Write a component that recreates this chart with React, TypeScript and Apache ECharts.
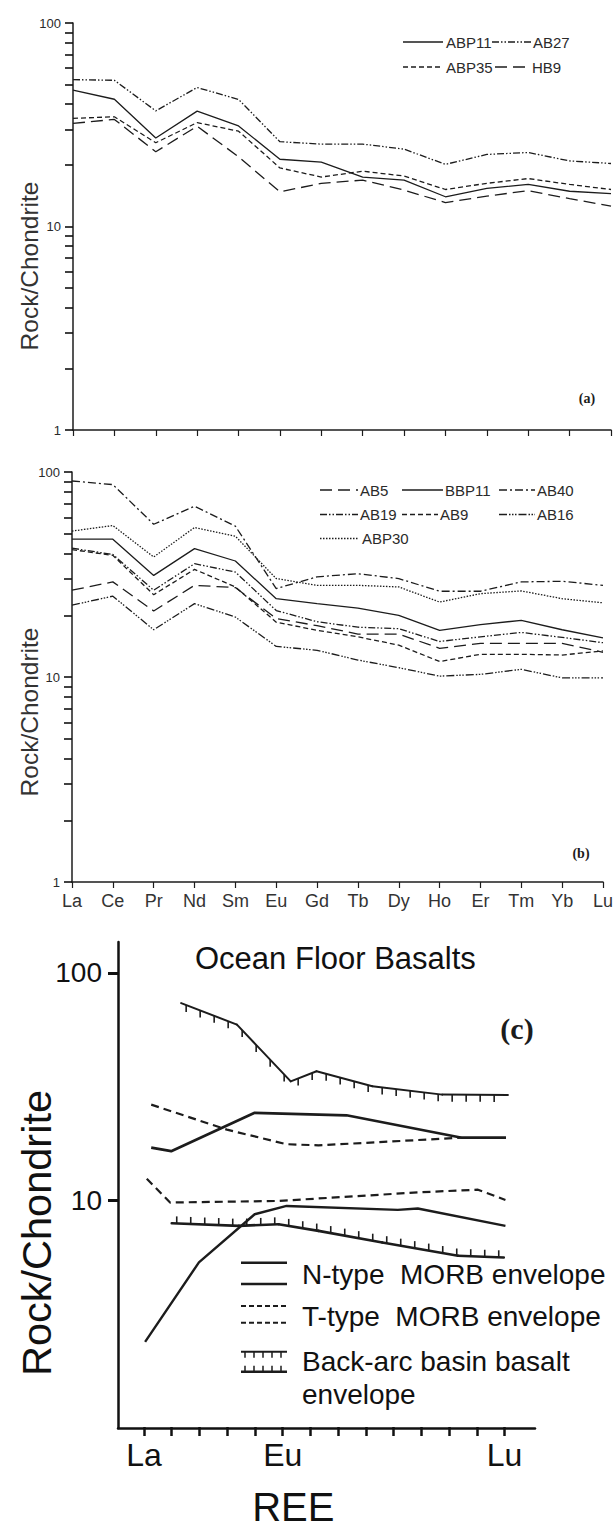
import React, { useEffect, useRef } from 'react';
import * as echarts from 'echarts';

// ---------- data ----------
const REE = ['La', 'Ce', 'Pr', 'Nd', 'Sm', 'Eu', 'Gd', 'Tb', 'Dy', 'Ho', 'Er', 'Tm', 'Yb', 'Lu'];
const REE_C_LABELS: Record<number, string> = { 0: 'La', 5: 'Eu', 13: 'Lu' };
const TICKS_AB = [1, 2, 3, 4, 5, 6, 7, 8, 9, 10, 20, 30, 40, 50, 60, 70, 80, 90, 100];
const LABELS_AB = [1, 10, 100];
const TICKS_C = [10, 100];
const Y_TITLE = 'Rock/Chondrite';

// panel (a)
const ABP11 = [46.8, 42.2, 27.2, 36.9, 31.2, 21.4, 20.7, 17.5, 16.9, 14.0, 15.4, 16.1, 14.9, 14.5];
const AB27 = [52.7, 52.3, 37.0, 48.2, 42.1, 26.1, 25.4, 25.4, 24.0, 20.2, 22.6, 23.1, 21.0, 20.4];
const ABP35 = [34.0, 34.6, 25.8, 32.4, 29.4, 19.4, 17.5, 18.7, 17.7, 15.2, 16.3, 17.2, 16.1, 15.2];
const HB9 = [32.1, 33.6, 23.3, 31.1, 22.0, 14.8, 16.3, 16.9, 15.1, 13.1, 14.1, 15.0, 13.7, 12.6];

// panel (b)
const AB5 = [26.5, 29.1, 21.0, 28.0, 27.3, 19.3, 17.8, 16.2, 16.2, 13.8, 14.6, 14.6, 14.6, 13.2];
const BBP11 = [47.0, 47.0, 31.3, 42.3, 36.8, 24.1, 22.8, 21.7, 20.0, 16.9, 18.0, 18.9, 17.0, 15.5];
const AB40 = [90.4, 86.8, 55.6, 68.1, 54.4, 27.0, 30.8, 31.9, 30.2, 26.2, 26.2, 29.1, 29.3, 28.0];
const AB19 = [42.5, 39.6, 26.5, 35.7, 32.5, 21.1, 18.6, 17.5, 17.2, 14.9, 15.7, 16.5, 15.6, 14.7];
const AB9 = [41.8, 39.2, 25.2, 33.5, 27.5, 18.5, 16.9, 15.7, 14.3, 11.9, 12.9, 12.9, 12.8, 13.4];
const AB16 = [22.4, 24.8, 17.0, 22.8, 19.6, 14.1, 13.5, 12.1, 11.1, 10.1, 10.3, 10.9, 9.9, 9.9];
const ABP30 = [51.5, 54.8, 38.5, 53.6, 48.6, 30.2, 28.0, 28.0, 27.5, 23.2, 25.5, 26.3, 24.1, 23.0];

// panel (c) envelopes: [REE index position, Rock/Chondrite]
const N_MORB_UPPER = [[0.26, 17.0], [0.98, 16.4], [3.99, 24.2], [7.3, 23.6], [11.46, 18.8], [13.05, 18.8]];
const N_MORB_LOWER = [[0.04, 2.37], [1.98, 5.31], [3.99, 8.65], [5.14, 9.41], [9.15, 9.04], [9.87, 9.17], [13.03, 7.69]];
const T_MORB_UPPER = [[0.26, 26.3], [2.99, 20.4], [5.14, 17.6], [6.29, 17.4], [11.46, 18.8]];
const T_MORB_LOWER = [[0.1, 12.4], [0.94, 9.74], [4.85, 9.9], [9.88, 10.8], [12.04, 11.1], [13.03, 10.0]];
const BAB_UPPER = [[1.34, 73.6], [3.35, 59.2], [5.29, 33.3], [6.22, 36.9], [8.23, 31.7], [10.75, 29.1], [13.12, 29.0]];
const BAB_LOWER = [[1.0, 7.9], [3.42, 7.69], [4.85, 7.82], [6.29, 7.31], [8.59, 6.5], [11.32, 5.68], [12.97, 5.58]];

// ---------- styling helpers ----------
const INK = '#1c1c1c';
const SANS = "'Liberation Sans', Arial, sans-serif";
const SERIF = "'Liberation Serif', 'Times New Roman', serif";

const DASH = {
  solid: 'solid' as any,
  short: [5, 3],
  long: [12, 6],
  dashDot: [8, 3, 2, 3],
  dashDotDot: [7, 2, 1.5, 2, 1.5, 2],
  dashDot3: [8, 2, 1.5, 1.5, 1.5, 1.5, 1.5, 2],
  dotted: [1.5, 1.5],
};

function hatchRenderer(points: number[][], dir: number, lineWidth: number) {
  const spacing = 14;
  const len = 7;
  return (params: any, api: any) => {
    const i = params.dataIndex;
    if (i === 0) return null;
    const a = api.coord(points[i - 1]);
    const b = api.coord([api.value(0), api.value(1)]);
    const x0 = api.coord(points[0])[0] + 5;
    const children: any[] = [
      { type: 'line', shape: { x1: a[0], y1: a[1], x2: b[0], y2: b[1] }, style: { stroke: INK, lineWidth, lineCap: 'round' } },
    ];
    const k = Math.ceil((a[0] - x0) / spacing);
    for (let x = x0 + k * spacing; x < b[0]; x += spacing) {
      const t = (x - a[0]) / (b[0] - a[0]);
      const y = a[1] + t * (b[1] - a[1]);
      children.push({ type: 'line', shape: { x1: x, y1: y, x2: x, y2: y + dir * len }, style: { stroke: INK, lineWidth: 1.6 } });
    }
    return { type: 'group', children };
  };
}

function lineSeries(name: string, data: any[], dash: any, xi: number, width = 1.3) {
  return {
    name,
    type: 'line',
    xAxisIndex: xi,
    yAxisIndex: xi,
    data,
    symbol: 'none',
    silent: true,
    lineStyle: { color: INK, width, type: dash },
  };
}

function legendItem(x1: number, x2: number, y: number, dash: any, label: string, tx: number, size = 15) {
  return [
    { type: 'line', shape: { x1, y1: y, x2, y2: y }, style: { stroke: INK, lineWidth: 1.3, lineDash: dash === 'solid' ? null : dash } },
    { type: 'text', x: tx, y, style: { text: label, fill: '#2a2a2a', fontSize: size, fontFamily: SANS, textAlign: 'left', textVerticalAlign: 'middle' } },
  ];
}

function hatchLegend(x1: number, x2: number, y: number, dir: number, width: number) {
  const els: any[] = [{ type: 'line', shape: { x1, y1: y, x2, y2: y }, style: { stroke: INK, lineWidth: width } }];
  for (let x = x1 + 4; x < x2; x += 9) {
    els.push({ type: 'line', shape: { x1: x, y1: y, x2: x, y2: y + dir * 6 }, style: { stroke: INK, lineWidth: 1.5 } });
  }
  return els;
}

function rotatedTitle(x: number, y: number, size: number, fill: string) {
  return {
    type: 'text', x, y, rotation: Math.PI / 2,
    style: { text: Y_TITLE, fill, fontSize: size, fontFamily: SANS, textAlign: 'center', textVerticalAlign: 'middle' },
  };
}

function abYAxis(gridIndex: number) {
  return {
    type: 'log',
    gridIndex,
    logBase: 10,
    min: 1,
    max: 100,
    axisLine: { show: true, lineStyle: { color: INK, width: 1.5 } },
    axisTick: { show: true, length: 8, customValues: TICKS_AB, lineStyle: { color: '#111', width: 1.6 } },
    axisLabel: { customValues: LABELS_AB, fontSize: 13, color: '#2a2a2a', margin: 12, fontFamily: SANS },
    splitLine: { show: false },
    minorTick: { show: false },
  };
}

export default function App() {
  const ref = useRef<HTMLDivElement>(null);
  useEffect(() => {
    if (!ref.current) return;
    const chart = echarts.init(ref.current, undefined, { renderer: 'svg' });

    const graphics: any[] = [
      rotatedTitle(29, 266, 24.5, '#333'),
      rotatedTitle(29, 712, 24.5, '#333'),
      rotatedTitle(36, 1233, 41.5, '#111'),
      ...legendItem(403, 443, 42, 'solid', 'ABP11', 446),
      ...legendItem(492, 531, 42, DASH.dashDotDot, 'AB27', 533),
      ...legendItem(403, 443, 67, DASH.short, 'ABP35', 446),
      ...legendItem(495, 530, 67, DASH.long, 'HB9', 532),
      ...legendItem(320, 358, 490, DASH.long, 'AB5', 360),
      ...legendItem(402, 443, 490, 'solid', 'BBP11', 445),
      ...legendItem(499, 535, 490, DASH.dashDot, 'AB40', 537),
      ...legendItem(320, 358, 514.5, DASH.dashDotDot, 'AB19', 360),
      ...legendItem(402, 438, 514.5, DASH.short, 'AB9', 440),
      ...legendItem(499, 535, 514.5, DASH.dashDot3, 'AB16', 537),
      ...legendItem(320, 359, 538.5, DASH.dotted, 'ABP30', 362),
      { type: 'text', x: 587, y: 398, style: { text: '(a)', fill: INK, fontSize: 14, fontWeight: 'bold', fontFamily: SERIF, textAlign: 'center', textVerticalAlign: 'middle' } },
      { type: 'text', x: 581, y: 853, style: { text: '(b)', fill: INK, fontSize: 14, fontWeight: 'bold', fontFamily: SERIF, textAlign: 'center', textVerticalAlign: 'middle' } },
      { type: 'text', x: 517, y: 1028, style: { text: '(c)', fill: INK, fontSize: 30, fontWeight: 'bold', fontFamily: SERIF, textAlign: 'center', textVerticalAlign: 'middle' } },
      { type: 'text', x: 195, y: 958, style: { text: 'Ocean Floor Basalts', fill: '#111', fontSize: 31, fontFamily: SANS, textAlign: 'left', textVerticalAlign: 'middle' } },
      { type: 'line', shape: { x1: 241, y1: 1262.7, x2: 287, y2: 1262.7 }, style: { stroke: INK, lineWidth: 2.5 } },
      { type: 'line', shape: { x1: 241, y1: 1284, x2: 287, y2: 1284 }, style: { stroke: INK, lineWidth: 2.5 } },
      { type: 'line', shape: { x1: 241, y1: 1306, x2: 287, y2: 1306 }, style: { stroke: INK, lineWidth: 2, lineDash: [5, 3] } },
      { type: 'line', shape: { x1: 241, y1: 1322.7, x2: 287, y2: 1322.7 }, style: { stroke: INK, lineWidth: 2, lineDash: [5, 3] } },
      ...hatchLegend(241, 287, 1351.7, 1, 2),
      ...hatchLegend(241, 287, 1371.7, -1, 2.5),
      { type: 'text', x: 302, y: 1274.5, style: { text: 'N-type  MORB envelope', fill: '#111', fontSize: 28, fontFamily: SANS, textAlign: 'left', textVerticalAlign: 'middle' } },
      { type: 'text', x: 302, y: 1316, style: { text: 'T-type  MORB envelope', fill: '#111', fontSize: 28, fontFamily: SANS, textAlign: 'left', textVerticalAlign: 'middle' } },
      { type: 'text', x: 302, y: 1361.7, style: { text: 'Back-arc basin basalt', fill: '#111', fontSize: 28, fontFamily: SANS, textAlign: 'left', textVerticalAlign: 'middle' } },
      { type: 'text', x: 302, y: 1394, style: { text: 'envelope', fill: '#111', fontSize: 28, fontFamily: SANS, textAlign: 'left', textVerticalAlign: 'middle' } },
    ];

    const option: any = {
      animation: false,
      backgroundColor: '#fff',
      textStyle: { fontFamily: SANS },
      grid: [
        { left: 73, right: 5, top: 23, bottom: 1098 },
        { left: 72, right: 7, top: 472, bottom: 646 },
        { left: 118, right: 81, top: 942, bottom: 100 },
        { left: 144, right: 111.4, top: 942, bottom: 100 },
      ],
      xAxis: [
        {
          type: 'category', gridIndex: 0, data: REE, boundaryGap: false,
          axisLine: { lineStyle: { color: INK, width: 1.5 } },
          axisTick: { show: true, length: 6, lineStyle: { color: INK, width: 1.2 } },
          axisLabel: { show: false },
        },
        {
          type: 'category', gridIndex: 1, data: REE, boundaryGap: false,
          axisLine: { lineStyle: { color: INK, width: 1.5 } },
          axisTick: { show: true, length: 6, lineStyle: { color: INK, width: 1.2 } },
          axisLabel: { show: true, fontSize: 18, color: '#333', margin: 10, interval: 0, fontFamily: SANS },
        },
        {
          type: 'value', gridIndex: 2, min: 0, max: 1,
          axisLine: { show: true, lineStyle: { color: '#111', width: 2.5 } },
          axisTick: { show: false }, axisLabel: { show: false }, splitLine: { show: false },
        },
        {
          type: 'value', gridIndex: 3, min: 0, max: 13, interval: 1,
          axisLine: { show: false },
          axisTick: { show: true, length: 9, lineStyle: { color: '#111', width: 2.5 } },
          axisLabel: { show: true, fontSize: 32, color: '#111', margin: 12, fontFamily: SANS, formatter: (v: number) => REE_C_LABELS[v] ?? '' },
          splitLine: { show: false },
          name: 'REE', nameLocation: 'middle', nameGap: 60,
          nameTextStyle: { fontSize: 40, color: '#111', fontFamily: SANS, padding: [0, 62, 0, 0] },
        },
      ],
      yAxis: [
        abYAxis(0),
        abYAxis(1),
        {
          type: 'log', gridIndex: 2, logBase: 10, min: 1, max: 136.8,
          axisLine: { show: true, lineStyle: { color: '#111', width: 2.5 } },
          axisTick: { show: true, length: 10, customValues: TICKS_C, lineStyle: { color: '#111', width: 3 } },
          axisLabel: { customValues: TICKS_C, fontSize: 28, color: '#111', margin: 16, fontFamily: SANS },
          splitLine: { show: false },
        },
        { type: 'log', gridIndex: 3, logBase: 10, min: 1, max: 136.8, show: false, splitLine: { show: false } },
      ],
      series: [
        lineSeries('ABP11', ABP11, DASH.solid, 0),
        lineSeries('AB27', AB27, DASH.dashDotDot, 0),
        lineSeries('ABP35', ABP35, DASH.short, 0),
        lineSeries('HB9', HB9, DASH.long, 0),
        lineSeries('AB5', AB5, DASH.long, 1),
        lineSeries('BBP11', BBP11, DASH.solid, 1),
        lineSeries('AB40', AB40, DASH.dashDot, 1),
        lineSeries('AB19', AB19, DASH.dashDotDot, 1),
        lineSeries('AB9', AB9, DASH.short, 1),
        lineSeries('AB16', AB16, DASH.dashDot3, 1),
        lineSeries('ABP30', ABP30, DASH.dotted, 1),
        lineSeries('N-type MORB envelope (upper)', N_MORB_UPPER, 'solid', 3, 2.7),
        lineSeries('N-type MORB envelope (lower)', N_MORB_LOWER, 'solid', 3, 2.4),
        lineSeries('T-type MORB envelope (upper)', T_MORB_UPPER, [8, 5], 3, 2.2),
        lineSeries('T-type MORB envelope (lower)', T_MORB_LOWER, [8, 5], 3, 2.2),
        {
          name: 'Back-arc basin basalt envelope (upper)', type: 'custom', xAxisIndex: 3, yAxisIndex: 3,
          data: BAB_UPPER, renderItem: hatchRenderer(BAB_UPPER, 1, 2), silent: true,
        },
        {
          name: 'Back-arc basin basalt envelope (lower)', type: 'custom', xAxisIndex: 3, yAxisIndex: 3,
          data: BAB_LOWER, renderItem: hatchRenderer(BAB_LOWER, -1, 2.6), silent: true,
        },
      ],
      graphic: graphics,
    };
    chart.setOption(option);
    return () => chart.dispose();
  }, []);
  return <div ref={ref} style={{ position: 'absolute', left: 0, top: 0, width: 616, height: 1528, background: '#fff' }} />;
}
